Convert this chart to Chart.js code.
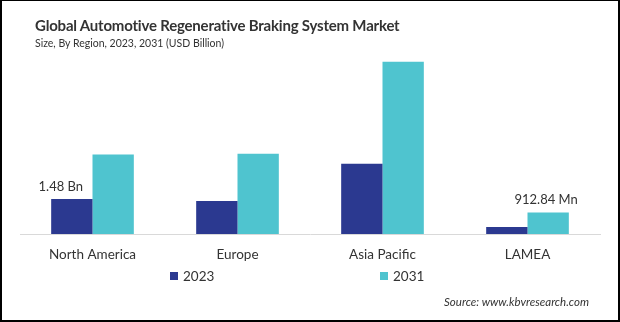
<!DOCTYPE html>
<html>
<head>
<meta charset="utf-8">
<script src="https://cdn.jsdelivr.net/npm/chart.js@4"></script>
<style>
    html, body { margin: 0; padding: 0; background: #fff; }
    #wrap { position: relative; width: 620px; height: 322px; overflow: hidden; font-family: Lato, sans-serif; color: #333; }
    #wrap canvas { position: absolute; left: 0; top: 0; }
    #frame { position: absolute; left: 0; top: 0; width: 620px; height: 322px; box-sizing: border-box;
             border: 2px solid #000; border-top-width: 1px; pointer-events: none; }
    #title { position: absolute; left: 35px; top: 16px; font-size: 15px; font-weight: bold; letter-spacing: -0.2px; color: #333; white-space: nowrap; }
    #subtitle { position: absolute; left: 35px; top: 37px; font-size: 10.5px; color: #333; white-space: nowrap; }
    #source { position: absolute; right: 31px; top: 295px; font-size: 11.5px; font-style: italic; color: #333; }
</style>
</head>
<body>
<div id="wrap">
    <canvas id="chart" width="620" height="322"></canvas>
    <div id="title">Global Automotive Regenerative Braking System Market</div>
    <div id="subtitle">Size, By Region, 2023, 2031 (USD Billion)</div>
    <div id="source">Source: www.kbvresearch.com</div>
    <div id="frame"></div>
</div>
<script>
const regions = ['North America', 'Europe', 'Asia Pacific', 'LAMEA'];
const years = ['2023', '2031'];
const values2023 = [1.48, 1.40, 2.97, 0.30];
const values2031 = [3.36, 3.40, 7.29, 0.91];
// text shown above a few bars: [dataset, index, text]
const barLabels = [[0, 0, '1.48 Bn'], [1, 3, '912.84 Mn']];

const colors = ['#2b3990', '#4fc4cf'];

// draws the value labels and the legend row
const extras = {
    id: 'extras',
    afterDraw(chart) {
        const ctx = chart.ctx;
        ctx.save();
        ctx.fillStyle = '#333';
        ctx.font = '13px Lato';
        ctx.textAlign = 'center';
        ctx.textBaseline = 'bottom';
        barLabels.forEach(([ds, i, text]) => {
            const bar = chart.getDatasetMeta(ds).data[i];
            const shift = ds === 0 ? -11 : -2;
            ctx.fillText(text, bar.x + shift, bar.y - 6);
        });

        const legendX = [170, 380];
        ctx.textAlign = 'left';
        ctx.textBaseline = 'middle';
        ctx.font = '13.5px Lato';
        years.forEach((year, i) => {
            ctx.fillStyle = colors[i];
            ctx.fillRect(legendX[i], 272, 8, 8);
            ctx.fillStyle = '#333';
            ctx.fillText(year, legendX[i] + 13, 277);
        });
        ctx.restore();
    }
};

new Chart(document.getElementById('chart').getContext('2d'), {
    type: 'bar',
    data: {
        labels: regions,
        datasets: [{
            label: years[0],
            data: values2023,
            backgroundColor: colors[0]
        }, {
            label: years[1],
            data: values2031,
            backgroundColor: colors[1]
        }]
    },
    options: {
        responsive: false,
        animation: false,
        devicePixelRatio: 1,
        categoryPercentage: 0.57,
        barPercentage: 1.0,
        layout: {
            padding: { left: 20, right: 20, top: 45, bottom: 56 }
        },
        scales: {
            x: {
                grid: { display: false },
                border: { color: '#d9d9d9', width: 1 },
                ticks: { color: '#333', font: { family: 'Lato', size: 13.5 }, padding: 5 },
                afterFit(scale) { scale.height = 32; }
            },
            y: {
                display: false,
                min: 0,
                max: 8
            }
        },
        plugins: {
            legend: { display: false },
            tooltip: { enabled: false }
        }
    },
    plugins: [extras]
});
</script>
</body>
</html>
